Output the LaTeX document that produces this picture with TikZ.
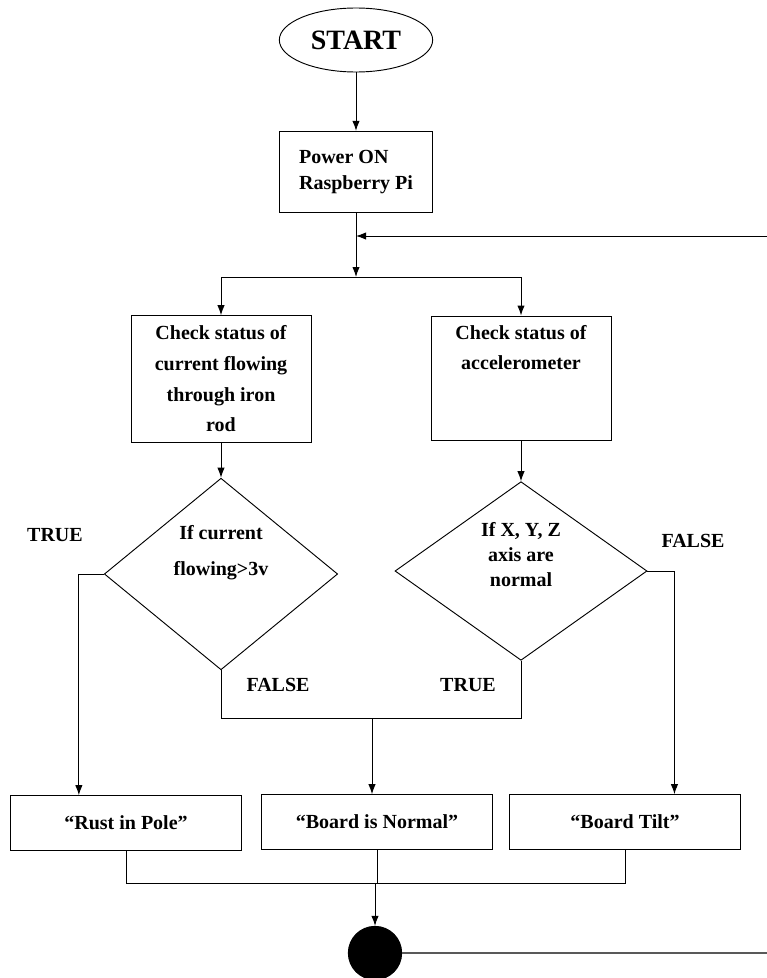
\documentclass[tikz,border=0pt]{standalone}
\usepackage{fontspec}
\setmainfont{Liberation Serif}
\usetikzlibrary{shapes.geometric,arrows.meta}

\begin{document}
\begin{tikzpicture}[x=0.75pt,y=-0.75pt,line width=0.7pt,
  txt/.style={font=\bfseries\fontsize{15}{19}\selectfont},
  box/.style={txt,draw,rectangle,align=center,inner sep=2pt},
  term/.style={draw,ellipse,minimum width=115pt,minimum height=48pt,
    font=\bfseries\fontsize{21}{25}\selectfont},
  dec/.style={txt,draw,diamond,align=center,inner sep=0pt},
  lbl/.style={txt,inner sep=0pt},
  arr/.style={-{Latex[length=7.5pt,width=5.5pt]}}]
  \useasboundingbox (0,0) rectangle (767,978);

  \node[term] (start) at (356,40) {START};
  \node[box,align=left,minimum width=115pt,minimum height=61pt] (power) at (356,172)
    {Power ON\\Raspberry Pi};

  \node[box,minimum width=135pt,minimum height=95pt,
    font=\bfseries\fontsize{15}{23}\selectfont] (curr) at (221,379)
    {Check status of\\current flowing\\through iron\\rod};
  \node[box,minimum width=135pt,minimum height=93pt,
    font=\bfseries\fontsize{15}{23}\selectfont] (acc) at (521,378)
    {Check status of\\accelerometer\\~\\~};

  \node[dec,minimum width=175pt,minimum height=134pt,
    font=\bfseries\fontsize{15}{27}\selectfont] (dcur) at (221,574)
    {If current\\flowing>3v\\\strut};
  \node[dec,minimum width=189pt,minimum height=134pt] (daxis) at (521,571)
    {If X, Y, Z\\axis are\\normal\\\strut};

  \node[box,minimum width=173pt,minimum height=41pt] (rust) at (126,823) {“Rust in Pole”};
  \node[box,minimum width=173pt,minimum height=41pt] (normal) at (377,822) {“Board is Normal”};
  \node[box,minimum width=173pt,minimum height=41pt] (tilt) at (625,822) {“Board Tilt”};

  \node[draw,circle,fill=black,minimum size=40pt,inner sep=0pt] (stop) at (375,953) {};

  \node[lbl] (t1) at (55,535) {TRUE};
  \node[lbl] (f1) at (693,541) {FALSE};
  \node[lbl] (f2) at (278,685) {FALSE};
  \node[lbl] (t2) at (468,685) {TRUE};

  \coordinate (split) at (355,277);
  \coordinate (loopin) at (767,236);
  \coordinate (loopout) at (767,953);
  \coordinate (mid) at (372,718);
  \coordinate (bot) at (375,883);

  \draw[arr] (start) -- (power);
  \draw[arr] (power.south) -- (power.south |- split);
  \draw[arr] (loopin) -- (loopin -| power.south);
  \draw (split -| curr.north) -- (split -| acc.north);
  \draw[arr] (split -| curr.north) -- (curr.north);
  \draw[arr] (split -| acc.north) -- (acc.north);
  \draw[arr] (curr) -- (dcur);
  \draw[arr] (acc) -- (daxis);

  \draw[arr] (dcur.west) -- ++(-25,0) coordinate (lt) -- (lt |- rust.north);
  \draw[arr] (daxis.east) -- ++(27,0) coordinate (rt) -- (rt |- tilt.north);
  \draw (dcur.south) -- (dcur.south |- mid) -- (daxis.south |- mid) -- (daxis.south);
  \draw[arr] (mid) -- (mid |- normal.north);

  \draw (rust.south) |- (bot) -| (tilt.south);
  \draw (normal.south) -- (normal.south |- bot);
  \draw[arr] (bot) -- (stop);
  \draw[black!65,line width=1.4pt] (stop) -- (loopout);
\end{tikzpicture}
\end{document}
